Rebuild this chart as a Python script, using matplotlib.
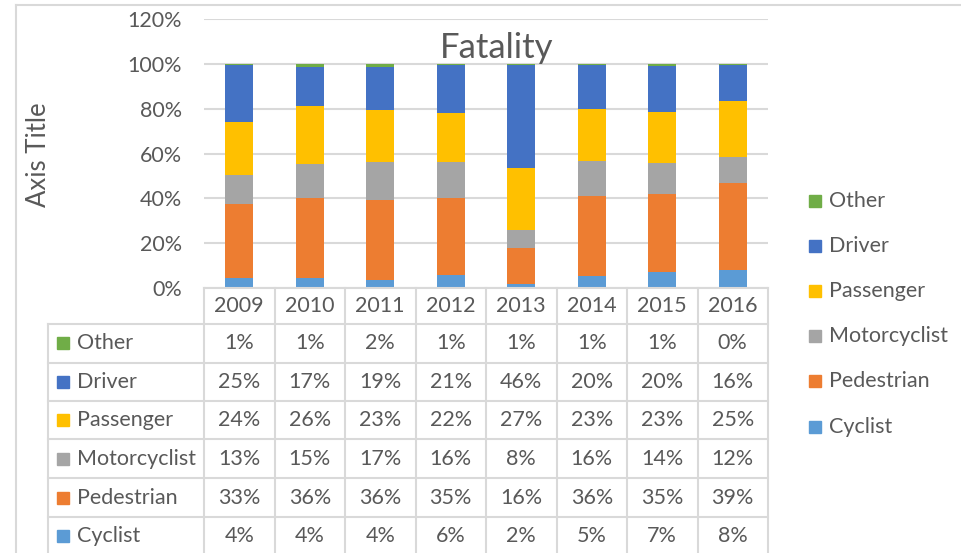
import matplotlib
matplotlib.use('Agg')
import matplotlib.pyplot as plt
from matplotlib.lines import Line2D
from matplotlib.patches import Rectangle

years = ['2009', '2010', '2011', '2012', '2013', '2014', '2015', '2016']
series = ['Cyclist', 'Pedestrian', 'Motorcyclist', 'Passenger', 'Driver', 'Other']
cyclist = [4.4, 4.4, 3.6, 5.6, 1.8, 5.4, 7.0, 8.1]
pedestrian = [33.2, 35.8, 35.7, 34.7, 16.1, 35.7, 35.0, 38.6]
motorcyclist = [12.6, 15.3, 17.0, 16.0, 8.1, 15.5, 13.6, 11.6]
passenger = [24.0, 25.7, 23.3, 21.6, 27.4, 23.2, 23.0, 24.9]
driver = [25.2, 17.4, 18.9, 21.4, 46.0, 19.6, 20.4, 16.4]
other = [0.6, 1.4, 1.6, 0.7, 0.6, 0.6, 1.0, 0.4]
values = [cyclist, pedestrian, motorcyclist, passenger, driver, other]
colors = ['#5B9BD5', '#ED7D31', '#A5A5A5', '#FFC000', '#4472C4', '#70AD47']

W, H = 961, 553
TXT = '#595959'
GRID = '#d9d9d9'
FS = 15.5
plt.rcParams['font.family'] = ['Lato', 'DejaVu Sans']

fig = plt.figure(figsize=(W / 100, H / 100), dpi=100)


def fx(x):
    return x / W


def fy(y):
    return 1 - y / H


# plot area in pixels
x0, x1, ytop, ybot = 204, 768, 19, 288
ax = fig.add_axes([fx(x0), fy(ybot), fx(x1 - x0), (ybot - ytop) / H])
ax.set_xlim(-0.5, len(years) - 0.5)
ax.set_ylim(0, 120)
ax.set_yticks(range(0, 121, 20))
ax.set_yticklabels(['{}%'.format(t) for t in range(0, 121, 20)])
ax.tick_params(axis='y', length=0, pad=16, labelsize=FS, labelcolor=TXT)
ax.tick_params(axis='x', length=0, labelbottom=False)
for s in ax.spines.values():
    s.set_visible(False)
ax.grid(axis='y', color=GRID, lw=1.5)
ax.set_axisbelow(True)

bottom = [0] * len(years)
for name, vals, c in zip(series, values, colors):
    ax.bar(range(len(years)), vals, width=0.4, bottom=bottom, color=c, label=name)
    bottom = [b + v for b, v in zip(bottom, vals)]

fig.text(fx(497), fy(48), 'Fatality', ha='center', va='center', fontsize=25, color=TXT)
fig.text(fx(39), fy(155), 'Axis Title', ha='center', va='center', rotation=90,
         fontsize=18.5, color=TXT)

# outer chart border
fig.add_artist(Line2D([fx(16), 1], [fy(5), fy(5)], color=GRID, lw=1.5))
fig.add_artist(Line2D([fx(16), fx(16)], [fy(5), 0], color=GRID, lw=1.5))

# legend on the right
leg_y = [427, 381, 336, 291, 246, 201]
for name, c, ly in zip(series, colors, leg_y):
    fig.add_artist(Rectangle((fx(809), fy(ly + 6)), fx(12), 12 / H, color=c))
    fig.text(fx(829), fy(ly), name, ha='left', va='center', fontsize=FS, color=TXT)

# data table
cw = (x1 - x0) / len(years)
row_lines = [324, 362.7, 401, 439.3, 478, 517]
table_bottom = 560
for i in range(len(years) + 1):
    xv = x0 + i * cw
    fig.add_artist(Line2D([fx(xv), fx(xv)], [fy(ybot), fy(table_bottom)], color=GRID, lw=1.5))
fig.add_artist(Line2D([fx(48), fx(48)], [fy(324), fy(table_bottom)], color=GRID, lw=1.5))
for ry in row_lines:
    fig.add_artist(Line2D([fx(48), fx(x1)], [fy(ry), fy(ry)], color=GRID, lw=1.5))
fig.add_artist(Line2D([fx(x0), fx(x1)], [fy(ybot), fy(ybot)], color=GRID, lw=1.5))

for i, yr in enumerate(years):
    fig.text(fx(x0 + (i + 0.5) * cw), fy(306.5), yr, ha='center', va='center',
             fontsize=FS, color=TXT)

row_centers = [343, 382, 420, 459, 498, 536]
table_order = list(range(len(series)))[::-1]
for rc, k in zip(row_centers, table_order):
    fig.add_artist(Rectangle((fx(57), fy(rc + 6)), fx(12), 12 / H, color=colors[k]))
    fig.text(fx(77), fy(rc), series[k], ha='left', va='center', fontsize=FS, color=TXT)
    for i, v in enumerate(values[k]):
        fig.text(fx(x0 + (i + 0.5) * cw), fy(rc), '{:.0f}%'.format(v), ha='center',
                 va='center', fontsize=FS, color=TXT)

fig.savefig('out.png', dpi=100)
